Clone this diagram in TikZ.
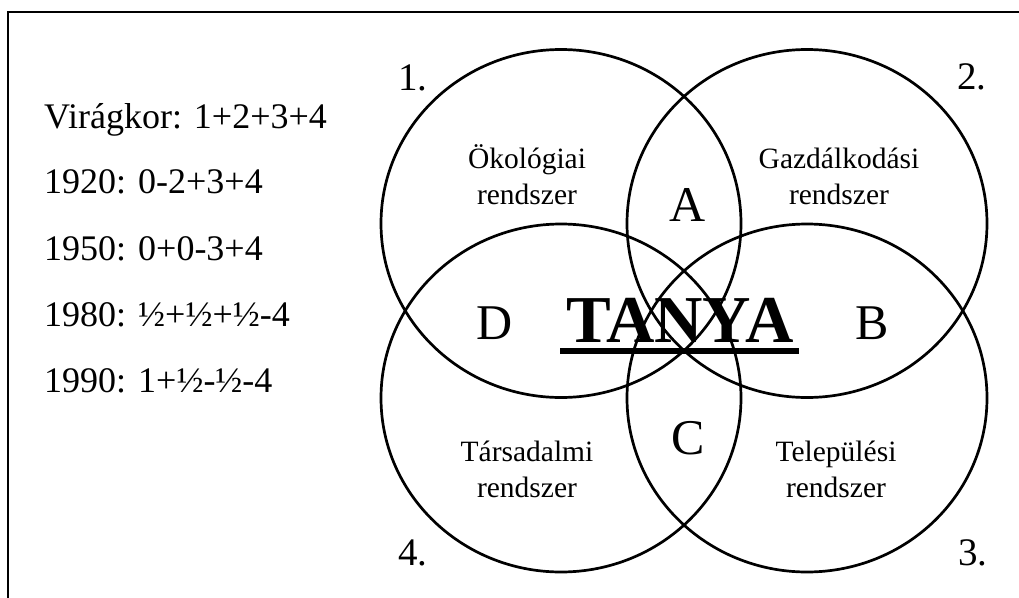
\documentclass[tikz,border=0pt]{standalone}
\usepackage{fontspec}
\setmainfont{Liberation Serif}
\begin{document}
\begin{tikzpicture}[x=1pt,y=-1pt,
  ring/.style={line width=2.7pt},
  lefttxt/.style={anchor=base west,inner sep=0pt,font=\fontsize{36}{40}\selectfont},
  numtxt/.style={anchor=base west,inner sep=0pt,font=\fontsize{39}{42}\selectfont},
  systxt/.style={anchor=base,inner sep=0pt,font=\fontsize{29.5}{34}\selectfont},
  lettxt/.style={anchor=base,inner sep=0pt,font=\fontsize{50}{54}\selectfont},
  titletxt/.style={anchor=base,inner sep=0pt,font=\fontsize{67}{70}\selectfont\bfseries}]
\useasboundingbox (0,0) rectangle (1019,597);
% frame (open at right and bottom)
\coordinate (fb) at (8,600);
\coordinate (fc) at (8,12);
\coordinate (fr) at (1022,12);
\draw[line width=1.3pt] (fb) -- (fc) -- (fr);
% circles
\coordinate (c1) at (561,223.5);
\coordinate (c2) at (807,223.5);
\coordinate (c3) at (807,398);
\coordinate (c4) at (561,398);
\draw[ring] (c1) ellipse [x radius=180pt, y radius=174pt];
\draw[ring] (c2) ellipse [x radius=180pt, y radius=174pt];
\draw[ring] (c3) ellipse [x radius=180pt, y radius=174pt];
\draw[ring] (c4) ellipse [x radius=180pt, y radius=174pt];
% left texts
\node[lefttxt] (t1) at (44,128) {Virágkor: 1+2+3+4};
\node[lefttxt] (t2) at (44,193) {1920: 0-2+3+4};
\node[lefttxt] (t3) at (44,260) {1950: 0+0-3+4};
\node[lefttxt] (t4) at (44,326) {1980: ½+½+½-4};
\node[lefttxt] (t5) at (44,392) {1990: 1+½-½-4};
% numbers
\node[numtxt] (n1) at (398,90) {1.};
\node[numtxt] (n2) at (957,89) {2.};
\node[numtxt] (n3) at (958,565) {3.};
\node[numtxt] (n4) at (398,565) {4.};
% system labels
\node[systxt] (s1a) at (527,168) {Ökológiai};
\node[systxt] (s1b) at (527,204) {rendszer};
\node[systxt] (s2a) at (839,168) {Gazdálkodási};
\node[systxt] (s2b) at (839,204) {rendszer};
\node[systxt] (s4a) at (527,461) {Társadalmi};
\node[systxt] (s4b) at (527,497) {rendszer};
\node[systxt] (s3a) at (836,461) {Települési};
\node[systxt] (s3b) at (836,497) {rendszer};
% letters
\node[lettxt] (la) at (688,221) {A};
\node[lettxt] (lb) at (872,339) {B};
\node[lettxt] (lc) at (688,454) {C};
\node[lettxt] (ld) at (495,339) {D};
% title
\node[titletxt] (tanya) at (680,342) {TANYA};
\coordinate (ul1) at (560,351);
\coordinate (ul2) at (799,351);
\draw[line width=5.5pt] (ul1) -- (ul2);
\end{tikzpicture}
\end{document}
